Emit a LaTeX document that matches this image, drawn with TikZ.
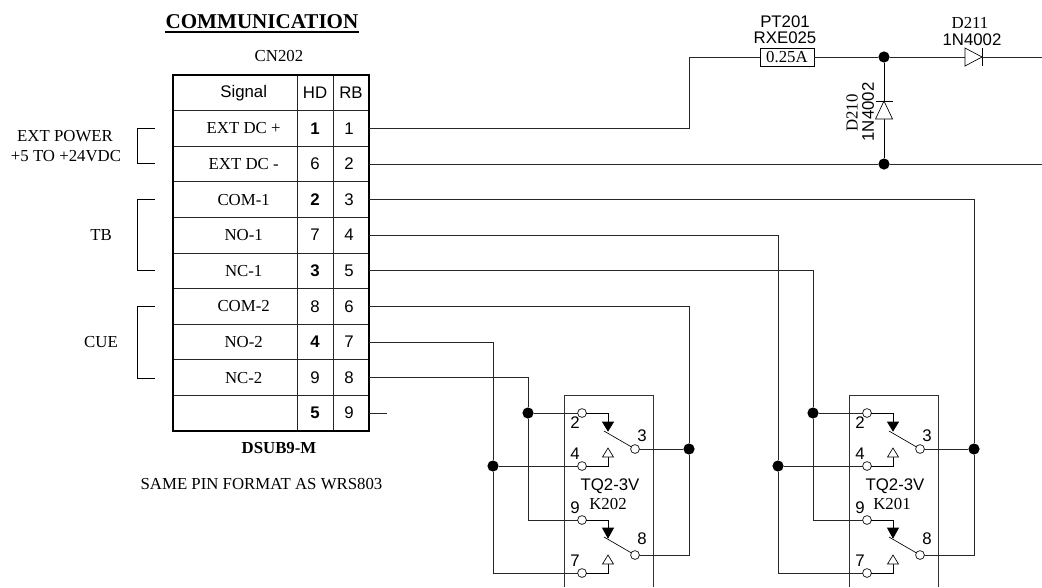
\documentclass[tikz,border=0pt]{standalone}
\usepackage{fontspec}
\setmainfont{Liberation Serif}
\newfontfamily\arialf{Liberation Sans}
\begin{document}
\begin{tikzpicture}[x=0.75pt,y=-0.75pt,
  wire/.style={draw=black!85,line width=0.75pt},
  thinw/.style={draw=black,line width=0.5pt},
  cell/.style={draw=black!85,line width=0.6pt,minimum height=26.7pt,inner sep=0pt,outer sep=0pt,anchor=center},
  sf/.style={font=\arialf\fontsize{12.6}{13}\selectfont,inner sep=0pt},
  sfb/.style={font=\arialf\bfseries\fontsize{12.6}{13}\selectfont,inner sep=0pt},
  rm/.style={font=\fontsize{12.6}{13}\selectfont,inner sep=0pt},
  dot/.style={circle,fill=black,draw=none,minimum size=8.4pt,inner sep=0pt,outer sep=0pt},
  pin/.style={circle,fill=white,draw=black,line width=0.5pt,minimum size=6.6pt,inner sep=0pt,outer sep=0pt},
  tri/.style={draw=black,line width=0.5pt,line join=miter},
]
\useasboundingbox (0,0) rectangle (1042,587);
\clip (0,0) rectangle (1042,587);
% title
\node[font=\bfseries\fontsize{15.8}{16}\selectfont,inner sep=0pt] (title) at (262,22) {COMMUNICATION};
\draw[black,line width=0.8pt] (title.west |- 0,32) coordinate (ula) -- (title.east |- 0,32) coordinate (ulb);
\node[rm] (cn) at (279,56) {CN202};
% table
\foreach \i/\sig/\hd/\rb/\b in {0/Signal/HD/RB/0,1/EXT DC +/1/1/1,2/EXT DC -/6/2/0,3/COM-1/2/3/1,4/NO-1/7/4/0,5/NC-1/3/5/1,6/COM-2/8/6/0,7/NO-2/4/7/1,8/NC-2/9/8/0,9/{}/5/9/1}{
  \pgfmathsetmacro\yy{75+35.6*\i+17.8}
  \ifnum\i=0
    \node[cell,minimum width=93pt,sf] (sig\i) at (235,\yy) {\hspace*{13pt}\sig};
    \node[cell,minimum width=27pt,sf] (hd\i) at (315,\yy) {\hd};
    \node[cell,minimum width=27pt,sf] (rb\i) at (351,\yy) {\rb};
  \else
    \node[cell,minimum width=93pt,rm] (sig\i) at (235,\yy) {\hspace*{13pt}\sig};
    \ifnum\b=1
      \node[cell,minimum width=27pt,sfb] (hd\i) at (315,\yy) {\hd};
    \else
      \node[cell,minimum width=27pt,sf] (hd\i) at (315,\yy) {\hd};
    \fi
    \node[cell,minimum width=27pt,sf] (rb\i) at (351,\yy) {\hspace*{-3pt}\rb};
  \fi
}
\draw[black,line width=1.2pt] (sig0.north west) rectangle (rb9.south east);
\node[font=\bfseries\fontsize{12.6}{13}\selectfont,inner sep=0pt] (dsub) at (279,448) {DSUB9-M};
\node[font=\fontsize{12.6}{13}\selectfont,inner sep=0pt] (same) at (261.5,484) {SAME PIN FORMAT AS WRS803};
% left labels
\node[rm] (extp) at (65,136) {EXT POWER};
\node[rm] (extv) at (66,156) {+5 TO +24VDC};
\node[rm] (tb) at (101,235) {TB};
\node[rm] (cue) at (101,342) {CUE};
\coordinate (b1a) at (155,128); \coordinate (b1b) at (137,128); \coordinate (b1c) at (137,163.5); \coordinate (b1d) at (155,163.5);
\coordinate (b2a) at (155,199.5); \coordinate (b2b) at (137,199.5); \coordinate (b2c) at (137,270.5); \coordinate (b2d) at (155,270.5);
\coordinate (b3a) at (155,306); \coordinate (b3b) at (137,306); \coordinate (b3c) at (137,378); \coordinate (b3d) at (155,378);
\draw[thinw] (b1a)--(b1b)--(b1c)--(b1d);
\draw[thinw] (b2a)--(b2b)--(b2c)--(b2d);
\draw[thinw] (b3a)--(b3b)--(b3c)--(b3d);
% relays
\newcommand{\relay}[2]{%
  \begin{scope}[xshift=#2*0.75pt]
    \coordinate (#1bl) at (849,587); \coordinate (#1tl) at (849,395); \coordinate (#1tr) at (938,395); \coordinate (#1br) at (938,587);
    \draw[draw=black!80,line width=0.75pt] (#1bl)--(#1tl)--(#1tr)--(#1br);
    \coordinate (#1ua) at (893,413); \coordinate (#1ub) at (893,466); \coordinate (#1la) at (893,520); \coordinate (#1lb) at (893,573);
    \node[pin] (#1p2) at (867,413) {};
    \node[pin] (#1p4) at (867,466) {};
    \node[pin] (#1p3) at (920,449) {};
    \node[pin] (#1p9) at (867,520) {};
    \node[pin] (#1p7) at (867,573) {};
    \node[pin] (#1p8) at (920,555) {};
    \draw[thinw] (#1p2)--(#1ua)--(893,423);
    \draw[thinw] (#1p4)--(#1ub)--(893,457);
    \draw[thinw] (#1p9)--(#1la)--(893,529);
    \draw[thinw] (#1p7)--(#1lb)--(893,564);
    \draw[tri,fill=black] (887.5,422)--(898.5,422)--(893,431)--cycle;
    \draw[tri,fill=black] (887.5,528)--(898.5,528)--(893,538)--cycle;
    \draw[tri,fill=white] (887.5,457)--(898.5,457)--(893,448)--cycle;
    \draw[tri,fill=white] (887.5,564)--(898.5,564)--(893,555)--cycle;
    \coordinate (#1au) at (889,431); \coordinate (#1al) at (889,537);
    \draw[thinw] (#1au)--(#1p3);
    \draw[thinw] (#1al)--(#1p8);
    \node[sf] (#1n2) at (860,423) {2};
    \node[sf] (#1n4) at (860,454) {4};
    \node[sf] (#1n3) at (927,436) {3};
    \node[sf] (#1n9) at (860,508) {9};
    \node[sf] (#1n7) at (860,561) {7};
    \node[sf] (#1n8) at (927,539) {8};
  \end{scope}}
\relay{a}{0}
\relay{b}{-285}
\node[sf] (at) at (895,486) {TQ2-3V};
\node[rm] (ak) at (892,504) {K201};
\node[sf] (bt) at (610,486) {TQ2-3V};
\node[rm] (bk) at (608,504) {K202};
% dots
\node[dot] (d1) at (884,57) {};
\node[dot] (d2) at (884,164) {};
\node[dot] (a2) at (813,413) {};
\node[dot] (a4) at (778,466) {};
\node[dot] (a3) at (974,449) {};
\node[dot] (b2) at (528,413) {};
\node[dot] (b4) at (493,466) {};
\node[dot] (b3) at (689,449) {};
% upper power path
\node[draw=black,line width=0.5pt,minimum width=40.5pt,minimum height=13.5pt,inner sep=0pt,outer sep=0pt,font=\fontsize{12.6}{13}\selectfont] (fuse) at (787,57) {0.25A};
\coordinate (c2) at (689,57);
\coordinate (eR) at (1042,57);
\coordinate (eL) at (1042,164);
\draw[wire] (rb1.east)--(689,0 |- rb1.east) coordinate (c1)--(c2)--(fuse.west);
\draw[wire] (fuse.east)--(d1);
% D211
\coordinate (d211l) at (965,57); \coordinate (d211r) at (982,57);
\draw[wire] (d1)--(d211l);
\draw[thinw,fill=white] (965,48)--(965,66)--(982,57)--cycle;
\draw[thinw] (982,48)--(982,66);
\draw[wire] (d211r)--(eR);
% D210
\coordinate (d210t) at (884,101); \coordinate (d210b) at (884,119);
\draw[thinw] (d1)--(d210t);
\draw[thinw] (d210b)--(d2);
\draw[thinw,fill=white] (875.5,119)--(892.5,119)--(884,101)--cycle;
\draw[thinw] (875.5,101)--(893,101);
\draw[wire] (rb2.east)--(d2)--(eL);
\node[sf] (pt1) at (785,22) {PT201};
\node[sf] (pt2) at (785,38) {RXE025};
\node[rm] (d211a) at (970,23) {D211};
\node[sf] (d211b) at (972,40) {1N4002};
\node[rm,rotate=90] (d210a) at (852,113) {D210};
\node[sf,rotate=90] (d210n) at (868,112) {1N4002};
% wires to relays
\draw[wire] (rb3.east)--(974,0 |- rb3.east) coordinate (w3)--(a3)--(974,555) coordinate (w3b)--(ap8);
\draw[wire] (a3)--(ap3);
\draw[wire] (rb4.east)--(778,0 |- rb4.east) coordinate (w4)--(a4)--(778,573) coordinate (w4b)--(ap7);
\draw[wire] (a4)--(ap4);
\draw[wire] (rb5.east)--(813,0 |- rb5.east) coordinate (w5)--(a2)--(813,520) coordinate (w5b)--(ap9);
\draw[wire] (a2)--(ap2);
\draw[wire] (rb6.east)--(689,0 |- rb6.east) coordinate (w6)--(b3)--(689,555) coordinate (w6b)--(bp8);
\draw[wire] (b3)--(bp3);
\draw[wire] (rb7.east)--(493,0 |- rb7.east) coordinate (w7)--(b4)--(493,573) coordinate (w7b)--(bp7);
\draw[wire] (b4)--(bp4);
\draw[wire] (rb8.east)--(528,0 |- rb8.east) coordinate (w8)--(b2)--(528,520) coordinate (w8b)--(bp9);
\draw[wire] (b2)--(bp2);
\draw[wire] (rb9.east)--(387,0 |- rb9.east) coordinate (w9);
\end{tikzpicture}
\end{document}
